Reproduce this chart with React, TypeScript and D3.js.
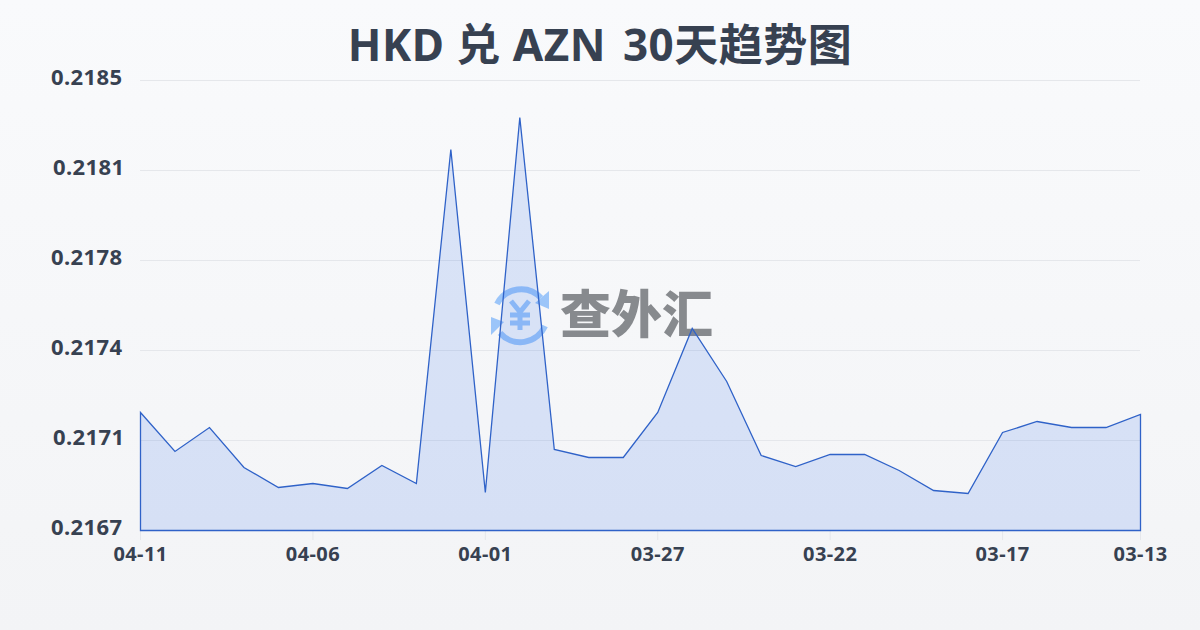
import React from "react";
import * as d3 from "d3";

const W = 1200, H = 630;
const titleHead = "HKD 兑 AZN ";
const titleTail = "30天趋势图";
const dates = ["04-11","04-10","04-09","04-08","04-07","04-06","04-05","04-04","04-03","04-02","04-01","03-31","03-30","03-29","03-28","03-27","03-26","03-25","03-24","03-23","03-22","03-21","03-20","03-19","03-18","03-17","03-16","03-15","03-14","03-13"];
const rates = [0.217172,0.217016,0.217112,0.216952,0.216872,0.216888,0.216868,0.21696,0.216888,0.218224,0.216852,0.218352,0.217024,0.216992,0.216992,0.217172,0.217508,0.217296,0.2170,0.216956,0.217004,0.217004,0.21694,0.21686,0.216848,0.217092,0.217136,0.217112,0.217112,0.217164];
const yTicks = [0.2167,0.21706,0.21742,0.21778,0.21814,0.2185];
const yLabels = ["0.2167","0.2171","0.2174","0.2178","0.2181","0.2185"];
const xTickIdx = [0,5,10,15,20,25,29];
const font = "'Noto Sans','Noto Sans CJK SC',sans-serif";
const ink = "#374151";

export default function App() {
  const x = d3.scaleLinear().domain([0, dates.length - 1]).range([140.5, 1140.5]);
  const y = d3.scaleLinear().domain([0.2167, 0.2185]).range([530.5, 80.5]);
  const area = d3.area<number>().x((_, i) => x(i)).y0(y(0.2167)).y1(d => y(d))(rates) ?? "";
  return (
    <svg width={W} height={H} viewBox={`0 0 ${W} ${H}`} style={{ position: "fixed", left: 0, top: 0, display: "block" }}>
      <defs>
        <linearGradient id="bg" x1="0" y1="0" x2="0" y2="1">
          <stop offset="0" stopColor="#f9fafc" />
          <stop offset="1" stopColor="#f3f4f6" />
        </linearGradient>
      </defs>
      <rect width={W} height={H} fill="url(#bg)" />
      <text x={600} y={60.5} textAnchor="middle" fontFamily={font} fontWeight={700} fontSize={44} letterSpacing={0.5} fill={ink}>
        <tspan>{titleHead}</tspan>
        <tspan dx={5}>{titleTail}</tspan>
      </text>
      {yTicks.map(t => <line key={t} x1={140} x2={1140} y1={y(t)} y2={y(t)} stroke="#e5e7eb" strokeWidth={1} />)}
      {yTicks.map((t, i) => (
        <text key={t} x={yLabels[i].endsWith("1") ? 124.5 : 122.5} y={y(t) + 4.5} textAnchor="end" fontFamily={font} fontWeight={700} fontSize={22} letterSpacing={0.4} fill={ink}>{yLabels[i]}</text>
      ))}
      {xTickIdx.map(i => (
        <g key={i}>
          <line x1={x(i)} x2={x(i)} y1={530} y2={540} stroke="#e5e7eb" />
          <text x={x(i)} y={560.5} textAnchor="middle" fontFamily={font} fontWeight={700} fontSize={20} letterSpacing={0.4} fill={ink}>{dates[i]}</text>
        </g>
      ))}
      <g opacity={0.6}>
        <g fill="none" stroke="#60a5fa" strokeWidth={6}>
          <path d="M 497 304 A 27 27 0 0 1 541 298" />
          <path d="M 545 326 A 27 27 0 0 1 500 333" />
        </g>
        <path d="M 549 291 L 549 309 L 535 303 Z" fill="#60a5fa" />
        <path d="M 491 317 L 504 322 L 491 335 Z" fill="#60a5fa" />
        <g stroke="#60a5fa" strokeWidth={5} fill="none">
          <path d="M 511 301 L 520 312 L 529 301" />
          <path d="M 520 312 L 520 330" />
          <path d="M 510 315 H 530" />
          <path d="M 510 323 H 530" />
        </g>
        <text x={560} y={333} fontFamily="'Noto Sans CJK SC'" fontWeight={900} fontSize={51} fill="#3f4248">查外汇</text>
      </g>
      <path d={area} fill="#2563eb" fillOpacity={0.14} stroke="#2f62c8" strokeWidth={1.3} strokeLinejoin="miter" />
    </svg>
  );
}
